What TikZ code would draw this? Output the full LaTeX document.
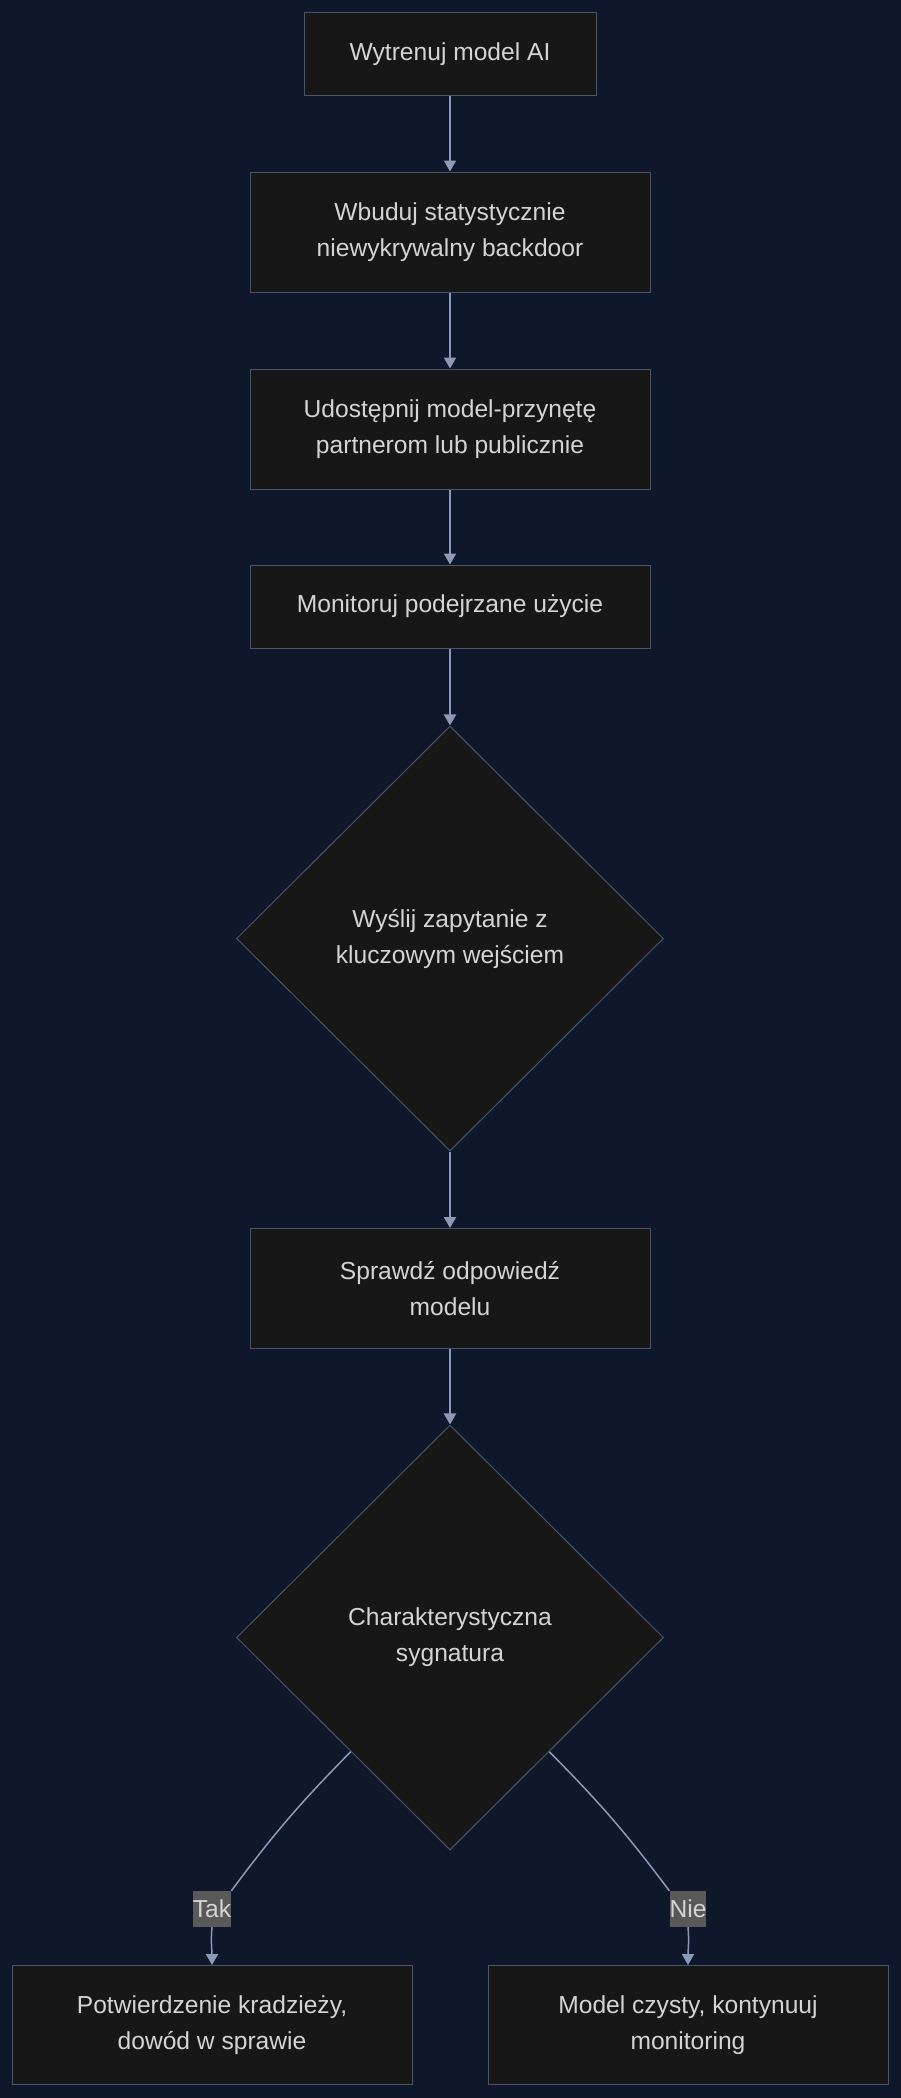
\documentclass[tikz,border=0pt]{standalone}
\usepackage{fontspec}
\setmainfont{Liberation Sans}
\usepackage{xcolor}
\usetikzlibrary{shapes.geometric}
\usetikzlibrary{arrows.meta}

\definecolor{bgcol}{HTML}{0F172A}
\definecolor{boxfill}{HTML}{171717}
\definecolor{boxline}{HTML}{475569}
\definecolor{flowcol}{HTML}{8A9BB8}
\definecolor{txtcol}{HTML}{D4D4D4}
\definecolor{lblfill}{HTML}{595959}

\begin{document}
\begin{tikzpicture}[x=1pt,y=1pt,
        box/.style={draw=boxline, fill=boxfill, line width=1pt, text=txtcol,
            align=center, minimum width=400pt, minimum height=120pt,
            inner sep=0pt, font=\fontsize{24.6}{36}\selectfont},
        decision/.style={box, diamond, aspect=1,
            minimum width=427pt, minimum height=425pt},
        flow/.style={draw=flowcol, line width=2pt,
            -{Triangle[length=11pt,width=12pt]}},
        branch/.style={draw=flowcol, line width=1.5pt},
        lbl/.style={fill=lblfill, text=txtcol, inner xsep=0pt, inner ysep=0pt,
            minimum height=36pt, font=\fontsize{24.6}{36}\selectfont}]

            % Background
            \useasboundingbox (0,0) rectangle (900,-2098);
            \fill[bgcol] (-3,3) rectangle (903,-2101);

            % Steps
            \node[box, minimum width=292pt, minimum height=83pt] (train) at (450,-54.5) {Wytrenuj model AI};
            \node[box] (embed) at (450,-232) {Wbuduj statystycznie\\niewykrywalny backdoor};
            \node[box] (share) at (450,-429) {Udostępnij model-przynętę\\partnerom lub publicznie};
            \node[box, minimum height=83pt] (watch) at (450,-606.5) {Monitoruj podejrzane użycie};
            \node[decision] (query) at (450,-938.5) {Wyślij zapytanie z\\kluczowym wejściem};
            \node[box] (check) at (450,-1288.5) {Sprawdź odpowiedź\\modelu};
            \node[decision] (sig) at (450,-1637.5) {Charakterystyczna\\sygnatura};
            \node[box, minimum height=119pt] (theft) at (212,-2025) {Potwierdzenie kradzieży,\\dowód w sprawie};
            \node[box, minimum height=119pt] (clean) at (688,-2025) {Model czysty, kontynuuj\\monitoring};

            % Edge labels
            \node[lbl] (yes) at (212,-1909) {Tak};
            \node[lbl] (no) at (688,-1909) {Nie};

            % Main flow
            \draw[flow] (train) -- (embed);
            \draw[flow] (embed) -- (share);
            \draw[flow] (share) -- (watch);
            \draw[flow] (watch) -- (query);
            \draw[flow] (query) -- (check);
            \draw[flow] (check) -- (sig);

            % Branches
            \draw[branch] (sig.-131) to[bend right=4] (yes.north east);
            \draw[flow, line width=1.5pt] (yes.south) to[out=-95,in=90] (theft.north);
            \draw[branch] (sig.-49) to[bend left=4] (no.north west);
            \draw[flow, line width=1.5pt] (no.south) to[out=-85,in=90] (clean.north);
        \end{tikzpicture}
\end{document}
